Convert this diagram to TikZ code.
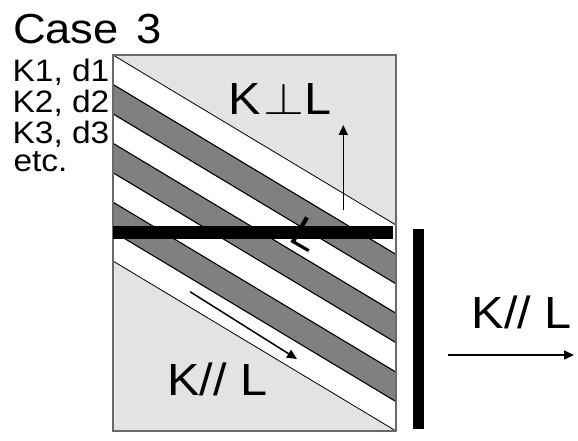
\RequirePackage{fix-cm}
\documentclass[tikz,border=0pt]{standalone}
\usepackage{fontspec}
\setmainfont{Liberation Sans}[FakeStretch=1.08]
\usetikzlibrary{arrows.meta}
\definecolor{lightfill}{RGB}{227,227,227}
\definecolor{stripe}{RGB}{128,128,128}
\definecolor{frame}{RGB}{105,105,105}
\begin{document}
\begin{tikzpicture}[x=1pt,y=-1pt,
  lbl/.style={inner sep=0pt, outer sep=0pt, anchor=base west, font=\fontsize{45}{54}\selectfont},
  title/.style={inner sep=0pt, outer sep=0pt, anchor=base west, font=\fontsize{42}{50}\selectfont},
  small/.style={inner sep=0pt, outer sep=0pt, anchor=base west, font=\fontsize{31}{36}\selectfont},
  arr/.style={line width=1.5pt, -{Triangle[length=10pt,width=9pt]}},
  stripeedge/.style={line width=1.1pt, draw=black},
  ]
\useasboundingbox (0,0) rectangle (578,441);
% box and regions
\fill[white] (113,55) rectangle (396,431);
\fill[lightfill] (113,55) -- (396,55) -- (396,225) -- cycle;
\fill[lightfill] (113,261) -- (396,431) -- (113,431) -- cycle;
\foreach \a/\b in {84.43/113.86, 143.29/172.71, 202.14/231.57} {
  \fill[stripe] (113,\a) -- (396,\a+170) -- (396,\b+170) -- (113,\b) -- cycle;
  \draw[stripeedge] (113,\a) -- (396,\a+170);
  \draw[stripeedge] (113,\b) -- (396,\b+170);
}
\draw[line width=0.8pt] (113,55) -- (396,225);
\draw[line width=0.8pt] (113,261) -- (396,431);
\draw[frame, line width=1.3pt] (113,55) rectangle (396,431);
% walls
\fill[black] (113,225.7) rectangle (392.5,239.3);
\fill[black] (413.3,229.3) rectangle (424,429.3);
% arrows
\coordinate (upA) at (343.3,210);
\coordinate (upB) at (343.3,125);
\draw[arr] (upA) -- (upB);
\coordinate (dgA) at (190,291.7);
\coordinate (dgB) at (297,359);
\draw[arr] (dgA) -- (dgB);
\coordinate (rtA) at (448.3,355);
\coordinate (rtB) at (574,355);
\draw[arr] (rtA) -- (rtB);
% texts
\node[title] (case) at (13,43.3) {Case\kern5pt\ 3};
\node[small] (k1) at (12.6,81.7) {K1, d1};
\node[small] (k2) at (12.6,112.5) {K2, d2};
\node[small] (k3) at (12.6,143) {K3, d3};
\node[small] (etc) at (13.5,171.7) {etc.};
\node[lbl] (perp) at (228.4,115) {K\kern3pt\scalebox{1.17}[1]{$\perp$}L};
\node[lbl] (parA) at (167.4,395) {K// L};
\node[lbl] (parB) at (471.7,328) {K// L};
\node[lbl, font=\fontsize{43}{50}\selectfont, rotate=-30] (rotL) at (287.8,240) {L};
\end{tikzpicture}
\end{document}
